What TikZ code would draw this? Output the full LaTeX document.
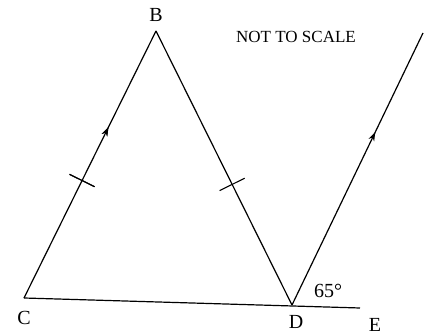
\documentclass[tikz,border=0pt]{standalone}
\usepackage{fontspec}
\setmainfont{Liberation Serif}
\usetikzlibrary{decorations.markings,arrows.meta}

\begin{document}
\begin{tikzpicture}[x=1pt,y=-1pt,
  seg/.style={line width=1.2pt},
  lbl/.style={font=\fontsize{20}{22}\selectfont, inner sep=0pt},
  midarrow/.style={postaction={decorate}, decoration={markings,
    mark=at position #1 with {\arrow{Stealth[length=9pt,width=6pt]}}}},
  tickmark/.style={postaction={decorate}, decoration={markings,
    mark=at position #1 with {\draw[line width=1.1pt] (0,-14pt) -- (0,14pt);}}}]
  \useasboundingbox (0,0) rectangle (434,336);

  % Points of the figure
  \coordinate (B) at (156,31);
  \coordinate (C) at (24,298);
  \coordinate (D) at (292,305);
  \coordinate (E) at (360,308);
  \coordinate (F) at (423,33);

  % Draw the triangle sides
  \draw[seg, midarrow=0.64, tickmark=0.44] (C) -- (B);
  \draw[seg, tickmark=0.56] (B) -- (D);
  \draw[seg] (C) -- (E);

  % Draw the parallel line through D
  \draw[seg, midarrow=0.636] (D) -- (F);

  % Labels
  \node[lbl] (labB) at (156,15) {B};
  \node[lbl] (labC) at (24,318) {C};
  \node[lbl] (labD) at (296,322) {D};
  \node[lbl] (labE) at (375,325) {E};
  \node[lbl] (ang) at (328,291) {65°};
  \node[font=\fontsize{17}{19}\selectfont, inner sep=0pt] (note) at (296,37) {NOT TO SCALE};
\end{tikzpicture}
\end{document}
